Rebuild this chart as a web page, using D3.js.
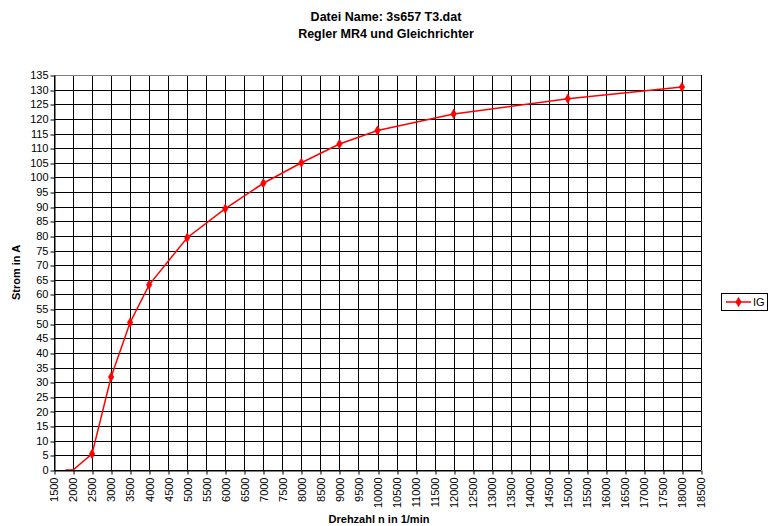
<!DOCTYPE html>
<html>
<head>
<meta charset="utf-8">
<script src="https://cdn.jsdelivr.net/npm/d3@7/dist/d3.min.js"></script>
<style>
  html, body { margin: 0; padding: 0; background: #fff; }
  svg { display: block; font-family: "Liberation Sans", Arial, sans-serif; }
</style>
</head>
<body>
<svg id="chart" width="775" height="526"></svg>
<script>
// Measured generator current over speed
const titleLines = ["Datei Name: 3s657 T3.dat", "Regler MR4 und Gleichrichter"];
const seriesName = "IG";
const speed = [1800, 2000, 2500, 3000, 3500, 4000, 5000, 6000, 7000, 8000, 9000, 10000, 12000, 15000, 18000];
const current = [0, 0, 5.5, 31.8, 50.4, 63.3, 79.4, 89.3, 98.0, 105.0, 111.4, 116.0, 121.7, 126.9, 130.9];
const xTicks = d3.range(1500, 18501, 500);
const yTicks = d3.range(0, 136, 5);

const svg = d3.select("#chart");
const plotL = 54, plotR = 701, plotT = 75, plotB = 470;

const x = d3.scaleLinear().domain([1500, 18500]).range([plotL, plotR]);
const y = d3.scaleLinear().domain([0, 135]).range([plotB, plotT]);
const crisp = v => Math.round(v) + 0.5;

// grid
const grid = svg.append("g");
grid.selectAll(".gx").data(xTicks).join("line")
  .attr("x1", d => crisp(x(d))).attr("x2", d => crisp(x(d)))
  .attr("y1", plotT).attr("y2", plotB)
  .attr("stroke", "#000").attr("stroke-width", 1);
grid.selectAll(".gy").data(yTicks).join("line")
  .attr("x1", plotL).attr("x2", plotR)
  .attr("y1", d => crisp(y(d))).attr("y2", d => crisp(y(d)))
  .attr("stroke", "#000").attr("stroke-width", 1);
// top edge of the plot frame
grid.append("line").attr("x1", plotL).attr("x2", plotR)
  .attr("y1", crisp(y(135))).attr("y2", crisp(y(135)))
  .attr("stroke", "#808080");

// y axis
const yAxis = svg.append("g").attr("transform", `translate(${crisp(plotL)},0)`)
  .call(d3.axisLeft(y).tickValues(yTicks).tickSize(4).tickPadding(2).tickSizeOuter(0));
yAxis.select(".domain").attr("stroke", "#000");
yAxis.selectAll(".tick line").attr("stroke", "#000")
  .attr("transform", d => `translate(0,${crisp(y(d)) - y(d)})`);
yAxis.selectAll("text").attr("font-size", 11).attr("fill", "#000")
  .attr("font-family", "Liberation Sans, Arial, sans-serif");

// x axis
const xAxis = svg.append("g").attr("transform", `translate(0,${crisp(plotB)})`)
  .call(d3.axisBottom(x).tickValues(xTicks).tickFormat(d3.format("d")).tickSize(4).tickSizeOuter(0));
xAxis.select(".domain").attr("stroke", "#000");
xAxis.selectAll(".tick line").attr("stroke", "#000")
  .attr("transform", d => `translate(${crisp(x(d)) - x(d)},0)`);
xAxis.selectAll("text")
  .attr("font-size", 11).attr("fill", "#000")
  .attr("font-family", "Liberation Sans, Arial, sans-serif")
  .attr("text-anchor", "end")
  .attr("transform", "rotate(-90)")
  .attr("x", -7).attr("y", 0).attr("dy", "0.35em");

// series
svg.append("clipPath").attr("id", "plotclip")
  .append("rect").attr("x", plotL).attr("y", plotT - 4).attr("width", plotR - plotL).attr("height", plotB - plotT + 4);
const pts = speed.map((s, i) => ({ s, v: current[i] }));
const line = d3.line().x(d => x(d.s)).y(d => y(d.v));
const series = svg.append("g").attr("clip-path", "url(#plotclip)");
series.append("path").datum(pts)
  .attr("d", line).attr("fill", "none")
  .attr("stroke", "#ff0000").attr("stroke-width", 1.5);
const marker = d3.symbol().type(d3.symbolDiamond).size(24);
series.selectAll(".pt").data(pts.filter(d => d.v > 0)).join("path")
  .attr("d", marker).attr("fill", "#ff0000").attr("stroke", "#ff0000").attr("stroke-width", 0.8)
  .attr("transform", d => `translate(${x(d.s)},${y(d.v)})`);

// titles
svg.selectAll(".title").data(titleLines).join("text")
  .attr("x", 386).attr("y", (d, i) => 21 + i * 17)
  .attr("text-anchor", "middle").attr("font-size", 12.5).attr("font-weight", "bold")
  .text(d => d);
svg.append("text").attr("transform", `translate(20,${(plotT + plotB) / 2}) rotate(-90)`)
  .attr("text-anchor", "middle").attr("font-size", 11).attr("font-weight", "bold")
  .text("Strom in A");
svg.append("text").attr("x", 379).attr("y", 523)
  .attr("text-anchor", "middle").attr("font-size", 11).attr("font-weight", "bold")
  .text("Drehzahl n in 1/min");

// legend
const lg = svg.append("g").attr("transform", "translate(721,293)");
lg.append("rect").attr("x", 0.5).attr("y", 0.5).attr("width", 46).attr("height", 17)
  .attr("fill", "#fff").attr("stroke", "#000");
lg.append("line").attr("x1", 5).attr("x2", 30).attr("y1", 9).attr("y2", 9)
  .attr("stroke", "#ff0000").attr("stroke-width", 1.5);
lg.append("path").attr("d", marker).attr("fill", "#ff0000").attr("stroke", "#ff0000").attr("stroke-width", 0.8)
  .attr("transform", "translate(17.5,9)");
lg.append("text").attr("x", 32).attr("y", 13).attr("font-size", 11).text(seriesName);
</script>
</body>
</html>
